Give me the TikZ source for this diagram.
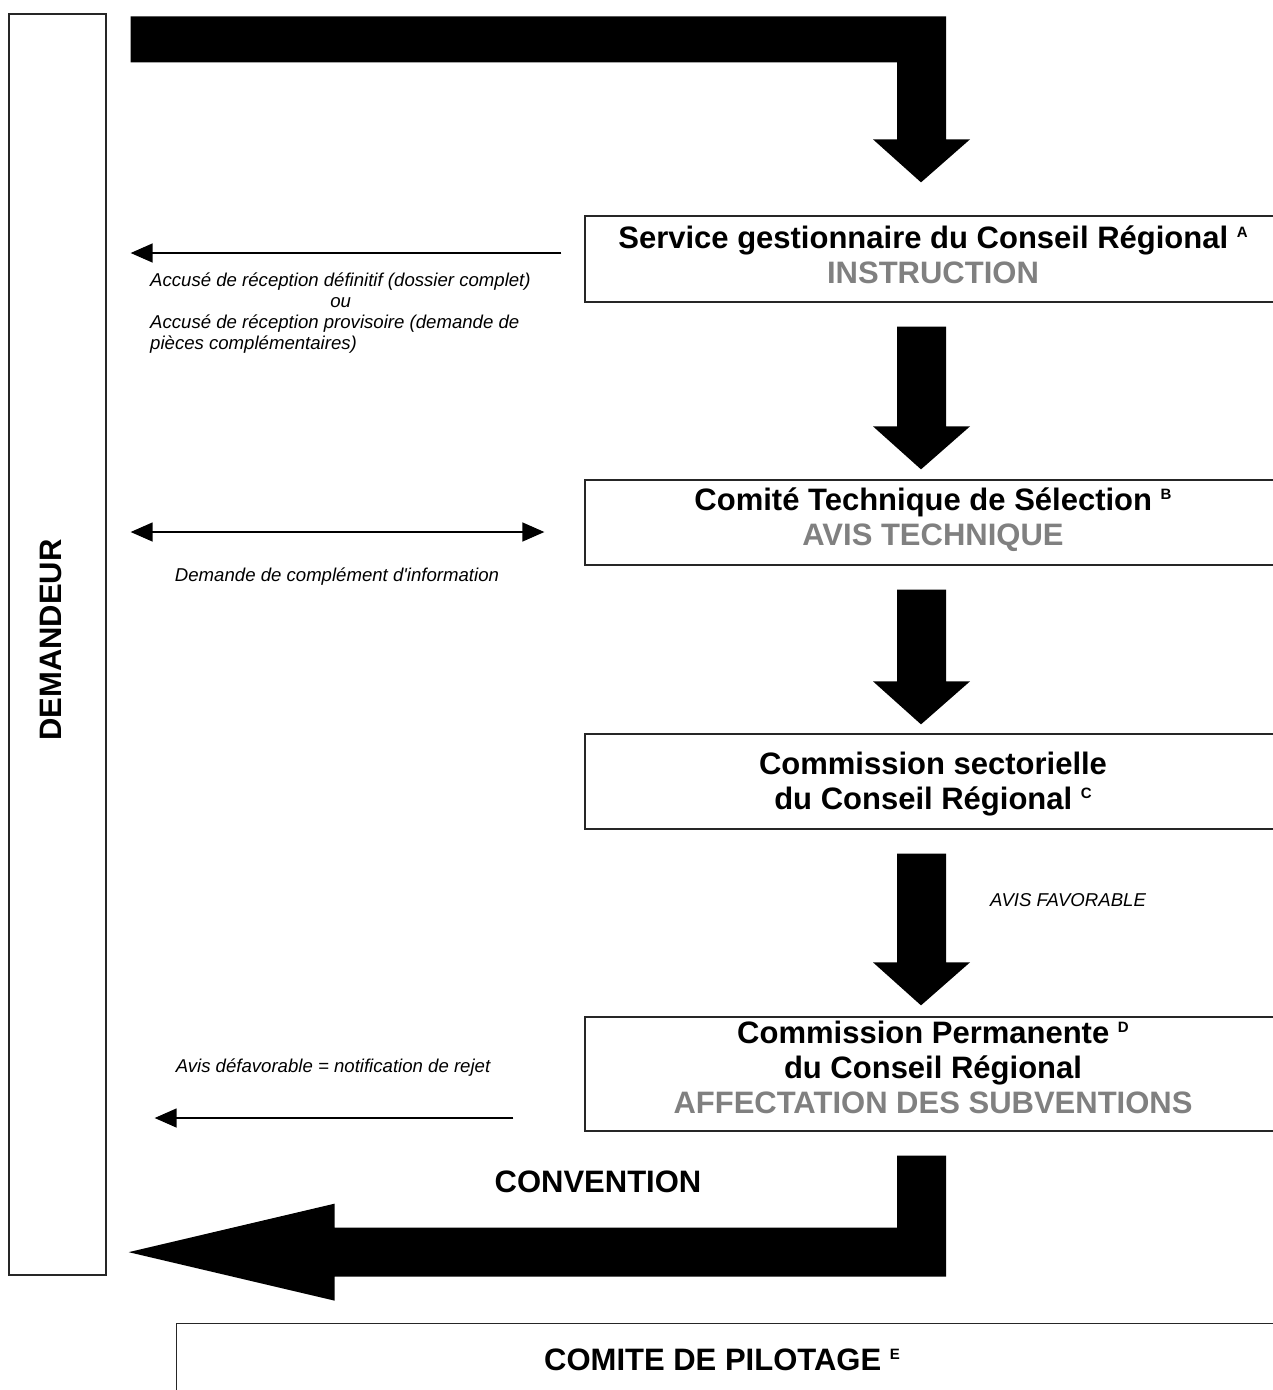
\documentclass[tikz,border=0pt]{standalone}
\usepackage{fontspec}
\defaultfontfeatures[\rmfamily]{}
\setmainfont{Liberation Sans}
\usetikzlibrary{arrows.meta,calc}
\definecolor{grtxt}{RGB}{128,128,128}
\newcommand\supl[1]{\raisebox{11pt}{\fontsize{15}{15}\selectfont #1}}
% #1 upper box, #2 lower box, #3 gap between tip and lower box
\newcommand\blkdown[3]{%
  \fill let \p0=(col), \p1=($(#1.south -| col)+(0,24)$), \p2=($(#2.north -| col)+(0,-#3)$) in
    (\x0-24pt,\y1) -- (\x0+25pt,\y1) -- (\x0+25pt,\y2+43pt) -- (\x0+49pt,\y2+43pt)
    -- (\x0,\y2) -- (\x0-48pt,\y2+43pt) -- (\x0-24pt,\y2+43pt) -- cycle;}
\begin{document}
\begin{tikzpicture}[x=1pt,y=-1pt,
  frame/.style={draw=black!85, line width=1.3pt, rectangle, inner sep=0pt},
  box/.style={frame, minimum width=696pt},
  boxtxt/.style={align=center, font=\fontsize{31}{35}\selectfont\bfseries, inner sep=0pt},
  note/.style={font=\fontsize{18.6}{21}\selectfont\itshape, inner sep=0pt},
  big/.style={font=\fontsize{31}{35}\selectfont\bfseries, inner sep=0pt},
  thinarr/.style={line width=1.4pt, -{Triangle[length=22pt,width=19pt]}},
  thinboth/.style={line width=1.4pt, {Triangle[length=22pt,width=19pt]}-{Triangle[length=22pt,width=19pt]}}]
\useasboundingbox (0,0) rectangle (1273,1390);
\clip (0,0) rectangle (1273,1390);

% DEMANDEUR
\node[frame, minimum width=97pt, minimum height=1261pt] (dem) at (57.5,644.5) {};
\node[big, rotate=90] (demtxt) at (51,640) {DEMANDEUR};

% boxes
\node[box, minimum height=86pt] (A) at (933,259) {};
\node[boxtxt] (Atxt) at (933,254.5)
  {Service gestionnaire du Conseil Régional \supl{A}\\\textcolor{grtxt}{INSTRUCTION}};
\node[box, minimum height=85pt] (B) at (933,522.5) {};
\node[boxtxt] (Btxt) at (933,520)
  {Comité Technique de Sélection \supl{B}\\\textcolor{grtxt}{AVIS TECHNIQUE}};
\node[box, minimum height=95pt] (C) at (933,781.5) {};
\node[boxtxt] (Ctxt) at (933,784)
  {Commission sectorielle\\du Conseil Régional \supl{C}};
\node[box, minimum height=114pt] (D) at (933,1074) {};
\node[boxtxt] (Dtxt) at (933,1067)
  {Commission Permanente \supl{D}\\du Conseil Régional\\\textcolor{grtxt}{AFFECTATION DES SUBVENTIONS}};
\node[frame, minimum width=1120pt, minimum height=100pt, anchor=north west] (E) at (176,1323) {};
\node[big] (Etxt) at (722,1360) {COMITE DE PILOTAGE \supl{E}};

% column of the thick arrows
\coordinate (col) at (921,0);

% top arrow
\fill let \p0=(col), \p1=($(dem.north east)+(24,3)$), \p2=($(A.north -| col)+(0,-33)$) in
  (\x1,\y1) -- (\x0+25pt,\y1) -- (\x0+25pt,\y2+43pt) -- (\x0+49pt,\y2+43pt) -- (\x0,\y2)
  -- (\x0-48pt,\y2+43pt) -- (\x0-24pt,\y2+43pt) -- (\x0-24pt,\y1-46pt) -- (\x1,\y1-46pt) -- cycle;

\blkdown{A}{B}{10}
\blkdown{B}{C}{9}
\blkdown{C}{D}{11}

% bottom arrow
\fill let \p0=(col), \p1=($(D.south -| col)+(0,24)$), \p2=($(dem.south east)+(22,-23.5)$) in
  (\x0-24pt,\y1) -- (\x0+25pt,\y1) -- (\x0+25pt,\y2-24.5pt) -- (\x2+206pt,\y2-24.5pt)
  -- (\x2+206pt,\y2-48.5pt) -- (\x2,\y2) -- (\x2+206pt,\y2+48.5pt) -- (\x2+206pt,\y2+24.5pt)
  -- (\x0-24pt,\y2+24.5pt) -- cycle;

% thin arrows
\coordinate (r1) at ($(A.west)+(-23,-6)$);
\draw[thinarr] (r1) -- ($(dem.east |- r1)+(24,0)$);
\coordinate (r2) at ($(B.west)+(-40,9.5)$);
\draw[thinboth] ($(dem.east |- r2)+(24,0)$) -- (r2);
\coordinate (r3) at ($(D.west)+(-71,44)$);
\draw[thinarr] (r3) -- ($(dem.east |- r3)+(48,0)$);

% labels
\node[note, text width=400pt, align=flush left, anchor=north west] (n1) at (150,273)
  {Accusé de réception définitif (dossier complet)\\\makebox[381pt]{ou}\\Accusé de réception provisoire (demande de\\pièces complémentaires)};
\node[note] (n2) at (337,577) {Demande de complément d'information};
\node[note] (n3) at (333,1068) {Avis défavorable = notification de rejet};
\node[note] (n4) at (1068,900) {AVIS FAVORABLE};
\node[big] (conv) at (598,1182) {CONVENTION};
\end{tikzpicture}
\end{document}
